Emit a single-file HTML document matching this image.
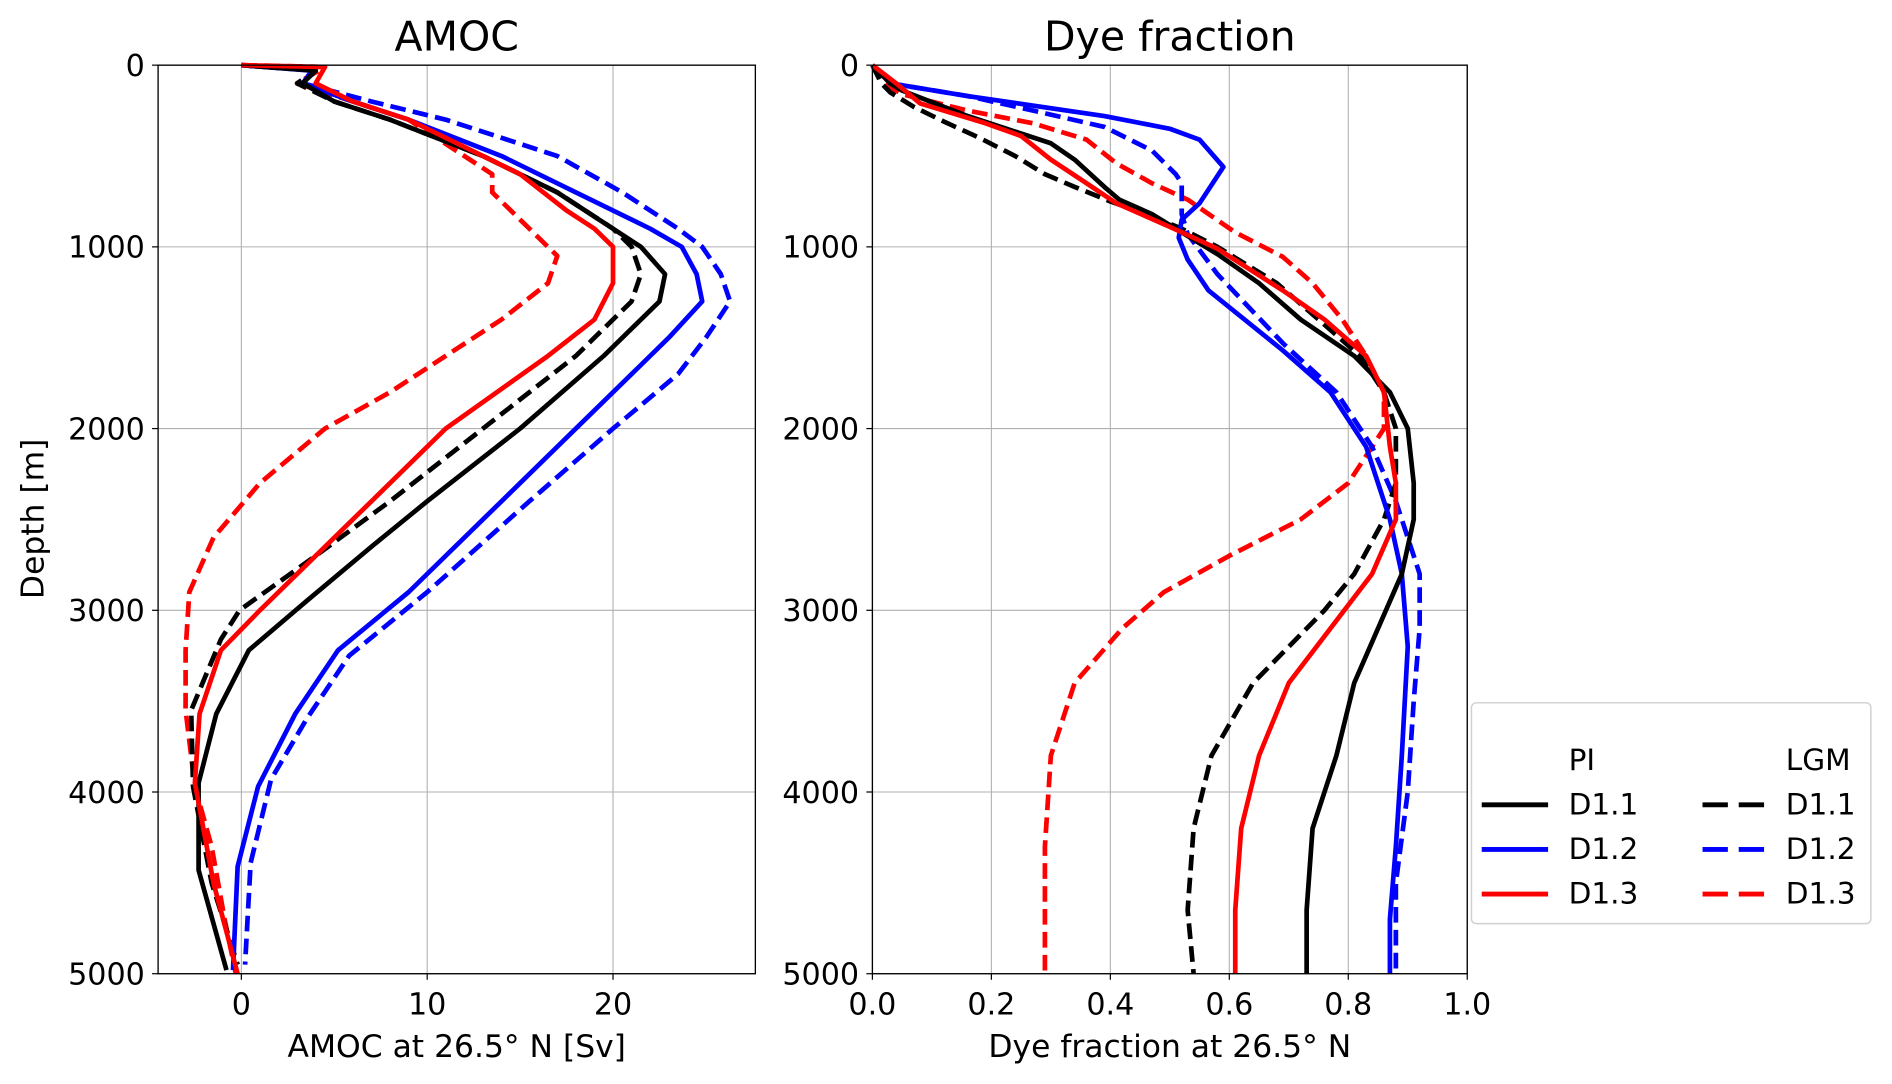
<!DOCTYPE html>
<html><head><meta charset="utf-8"><style>
html,body{margin:0;padding:0;background:#fff;}
svg{display:block;font-family:"DejaVu Sans","Liberation Sans",sans-serif;}
</style></head><body>
<svg id="fig" width="1892" height="1084" viewBox="0 0 1568 898.4" xmlns="http://www.w3.org/2000/svg">
<g id="gridL"></g>
<g id="gridR"></g>
<g id="seriesL"></g>
<g id="seriesR"></g>
<g id="axes"></g>
<text x="378.5" y="42" font-size="34" text-anchor="middle">AMOC</text>
<text x="969.5" y="42" font-size="34" text-anchor="middle">Dye fraction</text>
<text x="378.5" y="876" font-size="26" text-anchor="middle">AMOC at 26.5° N [Sv]</text>
<text x="969.5" y="876" font-size="26" text-anchor="middle">Dye fraction at 26.5° N</text>
<text x="0" y="0" font-size="26" text-anchor="middle" transform="translate(36,430) rotate(-90)">Depth [m]</text>
<g>
<rect x="1219.5" y="582.5" width="331" height="183" rx="4" fill="#fff" stroke="#d0d0d0" stroke-width="1.2"/>
<text x="1300" y="638" font-size="24.5">PI</text>
<text x="1480" y="638" font-size="24.5">LGM</text>
<g><line x1="1228" y1="667" x2="1283" y2="667" stroke="#000" stroke-width="4"/><text x="1300" y="675" font-size="24.5">D1.1</text></g>
<g><line x1="1228" y1="704" x2="1283" y2="704" stroke="#00f" stroke-width="4"/><text x="1300" y="712" font-size="24.5">D1.2</text></g>
<g><line x1="1228" y1="741" x2="1283" y2="741" stroke="#f00" stroke-width="4"/><text x="1300" y="749" font-size="24.5">D1.3</text></g>
<g><line x1="1411" y1="667" x2="1464" y2="667" stroke="#000" stroke-width="4" stroke-dasharray="21,9"/><text x="1480" y="675" font-size="24.5">D1.1</text></g>
<g><line x1="1411" y1="704" x2="1464" y2="704" stroke="#00f" stroke-width="4" stroke-dasharray="21,9"/><text x="1480" y="712" font-size="24.5">D1.2</text></g>
<g><line x1="1411" y1="741" x2="1464" y2="741" stroke="#f00" stroke-width="4" stroke-dasharray="21,9"/><text x="1480" y="749" font-size="24.5">D1.3</text></g>
</g>
</svg>
<script>
const amocTicks = [0, 10, 20];
const dyeTicks = [0.0, 0.2, 0.4, 0.6, 0.8, 1.0];
const depthTicks = [0, 1000, 2000, 3000, 4000, 5000];

const amocPiD11Depth = [0,30,100,200,300,500,700,1000,1150,1300,1600,2000,2400,2650,2950,3220,3570,3950,4430,4980];
const amocPiD11 = [0,4,3.3,5,8,13,17,21.5,22.8,22.5,19.5,15,10,7,3.5,0.4,-1.35,-2.3,-2.3,-0.8];
const amocLgmD11Depth = [0,30,100,200,300,500,700,900,1000,1150,1300,1600,2000,2400,2700,3000,3160,3550,3970,4500,4950];
const amocLgmD11 = [0,4,3,5,8,13,17,20,21,21.5,21,18,13,8,4,-0.1,-1.1,-2.7,-2.6,-1.6,-0.2];
const amocPiD12Depth = [0,30,100,200,300,500,700,900,1000,1150,1300,1500,1700,2000,2400,2900,3220,3570,3970,4410,4980];
const amocPiD12 = [0,3.8,3.3,6,9,14,18,22,23.7,24.5,24.8,23,21,18,14,9,5.2,2.9,0.9,-0.2,-0.45];
const amocLgmD12Depth = [0,30,100,200,300,500,700,900,1000,1150,1300,1500,1700,2000,2400,2900,3250,3600,3930,4390,4950];
const amocLgmD12 = [0,4,3.3,7,11,17,20.5,23.5,24.8,25.8,26.3,25,23.5,20,15.5,10,5.8,3.5,1.6,0.5,0.2];
const amocPiD13Depth = [0,10,100,200,300,500,600,800,900,1000,1200,1400,1600,2000,2400,2700,3000,3220,3570,3950,4500,5000];
const amocPiD13 = [0,4.5,4,6,9,13,15,17.5,19,20,20,19,16.5,11,7,4,1,-1.1,-2.25,-2.5,-1.5,-0.2];
const amocLgmD13Depth = [0,10,100,200,300,500,600,700,900,1050,1200,1400,1600,1800,2000,2300,2600,2900,3220,3550,3970,4300,4700,5000];
const amocLgmD13 = [0,4.5,3,6,9,12,13.5,13.5,15.5,17,16.5,14,11,8,4.5,1,-1.5,-2.8,-3,-3,-2.5,-1.6,-0.9,-0.3];

const dyePiD11Depth = [0,100,140,280,430,520,670,740,820,920,1040,1200,1400,1600,1800,2000,2300,2500,2800,3100,3400,3800,4200,4650,5000];
const dyePiD11 = [0,0.03,0.05,0.16,0.30,0.34,0.39,0.415,0.47,0.52,0.58,0.65,0.72,0.81,0.87,0.90,0.91,0.91,0.89,0.85,0.81,0.78,0.74,0.73,0.73];
const dyeLgmD11Depth = [0,100,150,230,310,400,500,600,670,750,820,900,1000,1100,1200,1400,1600,1800,2000,2300,2500,2800,3000,3200,3400,3800,4200,4650,5000];
const dyeLgmD11 = [0,0.015,0.03,0.07,0.12,0.18,0.24,0.29,0.34,0.40,0.46,0.52,0.58,0.63,0.68,0.75,0.82,0.86,0.88,0.88,0.86,0.81,0.76,0.70,0.64,0.57,0.54,0.53,0.54];
const dyePiD12Depth = [0,100,170,280,350,410,560,760,850,950,1070,1240,1570,1800,2100,2500,2800,3200,3800,4300,4700,5000];
const dyePiD12 = [0,0.03,0.16,0.39,0.50,0.55,0.59,0.55,0.52,0.515,0.53,0.565,0.69,0.77,0.83,0.87,0.89,0.90,0.89,0.88,0.87,0.87];
const dyeLgmD12Depth = [0,100,170,250,340,470,600,650,820,930,1150,1530,1800,2100,2400,2800,3100,3500,4000,4500,5000];
const dyeLgmD12 = [0,0.03,0.16,0.27,0.39,0.47,0.51,0.52,0.52,0.53,0.58,0.69,0.78,0.84,0.88,0.92,0.92,0.91,0.90,0.88,0.88];
const dyePiD13Depth = [0,100,210,320,390,520,650,760,890,1010,1240,1400,1600,1800,2100,2300,2500,2800,3100,3400,3800,4200,4650,5000];
const dyePiD13 = [0,0.04,0.08,0.19,0.25,0.30,0.36,0.41,0.50,0.58,0.69,0.76,0.83,0.86,0.87,0.88,0.88,0.84,0.77,0.70,0.65,0.62,0.61,0.61];
const dyeLgmD13Depth = [0,100,160,250,320,410,540,650,740,920,1055,1200,1400,1600,1800,2000,2300,2500,2700,2900,3100,3400,3800,4300,4700,5000];
const dyeLgmD13 = [0,0.02,0.05,0.16,0.27,0.36,0.41,0.47,0.53,0.61,0.69,0.74,0.79,0.83,0.86,0.86,0.80,0.72,0.60,0.49,0.42,0.34,0.30,0.29,0.29,0.29];

const NS = "http://www.w3.org/2000/svg";
const top_ = 54, bot = 807;
const L = {x0:131, x1:626, min:-4.48, max:27.66};
const R = {x0:723, x1:1216, min:0, max:1};
function yS(d){ return top_ + (bot-top_)*d/5000; }
function xS(ax,v){ return ax.x0 + (ax.x1-ax.x0)*(v-ax.min)/(ax.max-ax.min); }
function mk(tag, attrs, parent){ const e=document.createElementNS(NS,tag); for(const k in attrs) e.setAttribute(k,attrs[k]); parent.appendChild(e); return e; }

function drawAxes(ax, ticks, fmt, gridG, name){
  const axesG = document.getElementById('axes');
  ticks.forEach(t=>{
    const x = xS(ax,t);
    const g = mk('line',{x1:x,x2:x,y1:top_,y2:bot,stroke:'#b0b0b0','stroke-width':0.9},gridG);
    
    
    mk('line',{x1:x,x2:x,y1:bot,y2:bot+5,stroke:'#000','stroke-width':1},axesG);
    const tx = mk('text',{x:x,y:bot+34,'font-size':25,'text-anchor':'middle'},axesG);
    tx.textContent = fmt(t);
    
    
  });
  depthTicks.forEach(d=>{
    const y = yS(d);
    const g = mk('line',{x1:ax.x0,x2:ax.x1,y1:y,y2:y,stroke:'#b0b0b0','stroke-width':0.9},gridG);
    
    
    mk('line',{x1:ax.x0-5,x2:ax.x0,y1:y,y2:y,stroke:'#000','stroke-width':1},axesG);
    const tx = mk('text',{x:ax.x0-11,y:y+9,'font-size':25,'text-anchor':'end'},axesG);
    tx.textContent = String(d);
    
    
  });
  const fr = mk('rect',{x:ax.x0,y:top_,width:ax.x1-ax.x0,height:bot-top_,fill:'none',stroke:'#000','stroke-width':1.1},axesG);
  
  
}
drawAxes(L, amocTicks, t=>String(t), document.getElementById('gridL'), 'amoc');
drawAxes(R, dyeTicks, t=>t.toFixed(1), document.getElementById('gridR'), 'dye');

function series(ax, gid, depth, vals, color, dashed, name){
  const g = document.getElementById(gid);
  const pts = depth.map((d,i)=>xS(ax,vals[i]).toFixed(2)+','+yS(d).toFixed(2)).join(' ');
  const attrs = {points:pts,fill:'none',stroke:color,'stroke-width':3.9,'stroke-linejoin':'round'};
  if(dashed) attrs['stroke-dasharray']='13,6';
  const p = mk('polyline',attrs,g);
  
  
}
series(L,'seriesL',amocLgmD13Depth,amocLgmD13,'#f00',true,'amoc-lgm-d13-line');
series(L,'seriesL',amocLgmD12Depth,amocLgmD12,'#00f',true,'amoc-lgm-d12-line');
series(L,'seriesL',amocLgmD11Depth,amocLgmD11,'#000',true,'amoc-lgm-d11-line');
series(L,'seriesL',amocPiD12Depth,amocPiD12,'#00f',false,'amoc-pi-d12-line');
series(L,'seriesL',amocPiD11Depth,amocPiD11,'#000',false,'amoc-pi-d11-line');
series(L,'seriesL',amocPiD13Depth,amocPiD13,'#f00',false,'amoc-pi-d13-line');
series(R,'seriesR',dyeLgmD13Depth,dyeLgmD13,'#f00',true,'dye-lgm-d13-line');
series(R,'seriesR',dyeLgmD12Depth,dyeLgmD12,'#00f',true,'dye-lgm-d12-line');
series(R,'seriesR',dyeLgmD11Depth,dyeLgmD11,'#000',true,'dye-lgm-d11-line');
series(R,'seriesR',dyePiD12Depth,dyePiD12,'#00f',false,'dye-pi-d12-line');
series(R,'seriesR',dyePiD11Depth,dyePiD11,'#000',false,'dye-pi-d11-line');
series(R,'seriesR',dyePiD13Depth,dyePiD13,'#f00',false,'dye-pi-d13-line');
</script>
</body></html>
